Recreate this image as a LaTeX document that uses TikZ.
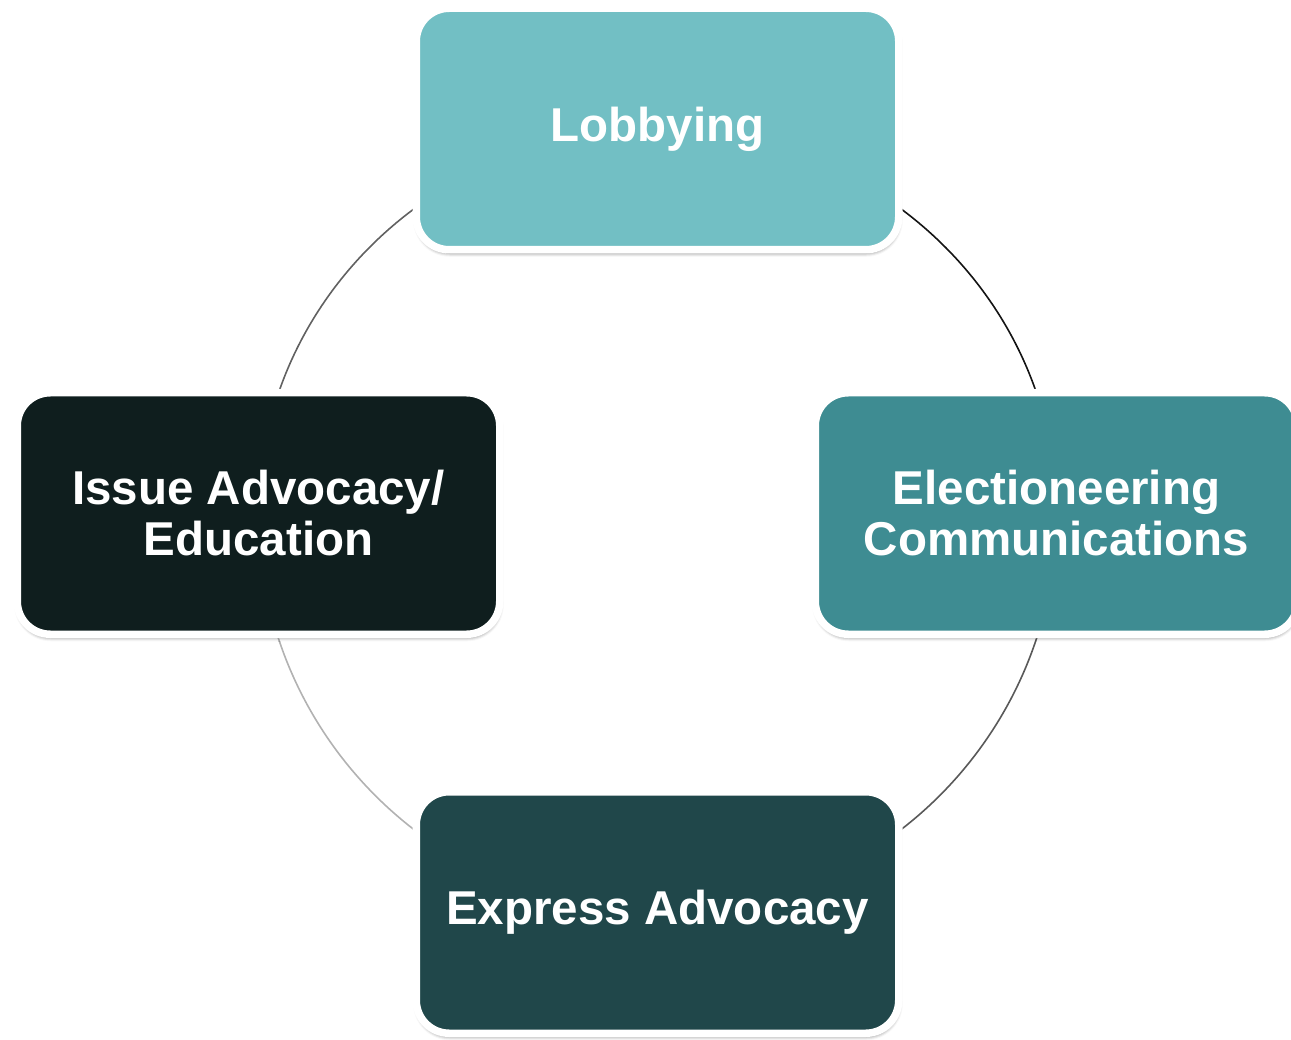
\documentclass[tikz,border=0pt]{standalone}
\usepackage{fontspec}
\setmainfont{Liberation Sans}
\usetikzlibrary{shadows.blur,backgrounds}
\definecolor{lobc}{HTML}{72BFC4}
\definecolor{elec}{HTML}{3E8C92}
\definecolor{expc}{HTML}{20474A}
\definecolor{issc}{HTML}{0F1E1E}
\begin{document}
\begin{tikzpicture}[x=1pt,y=-1pt,
  card/.style={draw=white, line width=7.5pt, rounded corners=33pt,
    minimum width=482.5pt, minimum height=241.5pt, inner sep=0pt,
    align=center, text=white,
    font=\fontsize{47.5}{51}\selectfont\bfseries,
    blur shadow={shadow xshift=0.5pt, shadow yshift=-3.5pt,
      shadow blur radius=3.5pt, shadow opacity=50}},
  ring/.style={line width=1.6pt}]
\useasboundingbox (0,0) rectangle (1291,1040);
\node[card, fill=lobc] (lob) at (657.5,129) {\raisebox{-2.5pt}{Lobbying}};
\node[card, fill=issc] (iss) at (258.5,513.5) {Issue Advocacy/\\Education};
\node[card, fill=elec] (ele) at (1056.5,513.5) {Electioneering\\Communications};
\node[card, fill=expc] (exp) at (657.5,912.5) {\raisebox{-3pt}{Express Advocacy}};
\begin{scope}[on background layer]
  \draw[ring, draw=black!62] (iss.center) arc[start angle=180, end angle=270, x radius=399, y radius=384.5];
  \draw[ring, draw=black!92] (lob.center) arc[start angle=270, end angle=360, x radius=399, y radius=384.5];
  \draw[ring, draw=black!65] (ele.center) arc[start angle=0, end angle=90, radius=399];
  \draw[ring, draw=black!30] (exp.center) arc[start angle=90, end angle=180, radius=399];
\end{scope}
\end{tikzpicture}
\end{document}
